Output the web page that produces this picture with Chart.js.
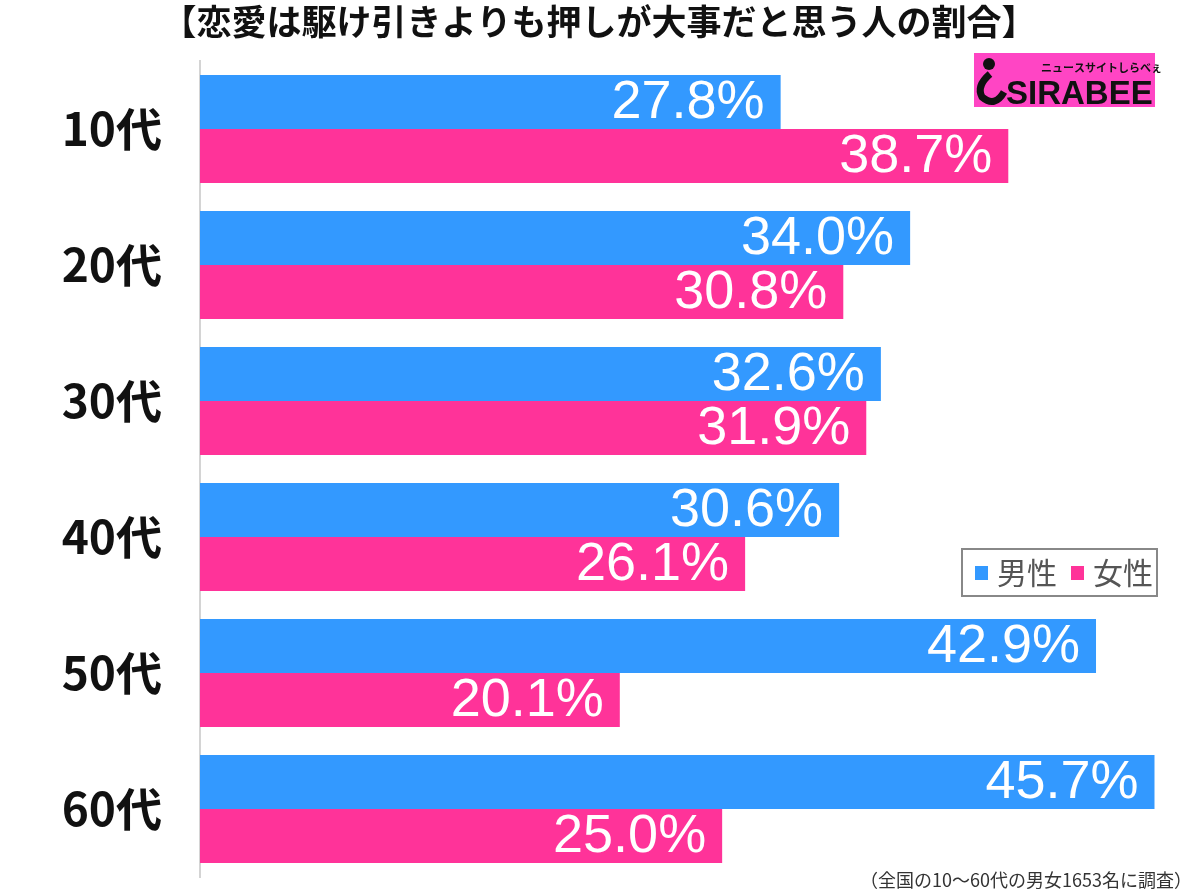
<!DOCTYPE html>
<html lang="ja">
<head>
<meta charset="utf-8">
<title>恋愛は駆け引きよりも押しが大事だと思う人の割合</title>
<style>
  body { margin: 0; background: #fff; }
  #wrap { position: relative; width: 1200px; height: 891px; }
</style>
</head>
<body>
<div id="wrap"><canvas id="myChart"></canvas></div>
<script src="https://cdn.jsdelivr.net/npm/chart.js"></script>
<script>
// data
var ages = ['10代', '20代', '30代', '40代', '50代', '60代'];
var male = [27.8, 34.0, 32.6, 30.6, 42.9, 45.7];
var female = [38.7, 30.8, 31.9, 26.1, 20.1, 25.0];
var seriesNames = ['男性', '女性'];
var titleText = '【恋愛は駆け引きよりも押しが大事だと思う人の割合】';
var noteText = '（全国の10〜60代の男女1653名に調査）';

var BLUE = '#3399ff';
var PINK = '#ff3399';
var CJK = '"Noto Sans CJK JP", "Noto Sans", sans-serif';
var NUM = '"Liberation Sans", Arial, sans-serif';

// title, logo, legend box, footnote
var decorations = {
  id: 'decorations',
  afterDraw: function (chart) {
    var ctx = chart.ctx;
    ctx.save();

    ctx.fillStyle = '#111';
    ctx.font = 'bold 35px ' + CJK;
    ctx.textAlign = 'center';
    ctx.textBaseline = 'middle';
    ctx.fillText(titleText, 599, 22);

    // logo
    ctx.fillStyle = '#ff45c4';
    ctx.fillRect(974, 53, 181, 54);
    ctx.fillStyle = '#111';
    ctx.beginPath();
    ctx.arc(989, 64, 6, 0, Math.PI * 2);
    ctx.fill();
    ctx.lineWidth = 7;
    ctx.strokeStyle = '#111';
    ctx.beginPath();
    ctx.moveTo(990, 74);
    ctx.quadraticCurveTo(976, 86, 982, 97);
    ctx.quadraticCurveTo(995, 108, 1004, 92);
    ctx.stroke();
    ctx.font = 'bold 33px ' + NUM;
    ctx.textAlign = 'left';
    ctx.textBaseline = 'alphabetic';
    ctx.fillText('SIRABEE', 1006, 104);
    ctx.font = 'bold 11px ' + CJK;
    ctx.fillText('ニュースサイトしらべぇ', 1041, 72);

    // legend
    ctx.strokeStyle = '#888';
    ctx.lineWidth = 2;
    ctx.strokeRect(962, 549, 195, 47);
    ctx.fillStyle = BLUE;
    ctx.fillRect(975, 566, 13, 14);
    ctx.fillStyle = PINK;
    ctx.fillRect(1071, 566, 13, 14);
    ctx.fillStyle = '#555';
    ctx.font = '30px ' + CJK;
    ctx.textBaseline = 'middle';
    ctx.fillText(seriesNames[0], 997, 573);
    ctx.fillText(seriesNames[1], 1093, 573);

    // footnote
    ctx.fillStyle = '#333';
    ctx.font = '18px ' + CJK;
    ctx.textAlign = 'right';
    ctx.fillText(noteText, 1192, 880);
    ctx.restore();
  }
};

// white value labels inside bar ends
var valueLabels = {
  id: 'valueLabels',
  afterDatasetsDraw: function (chart) {
    var ctx = chart.ctx;
    ctx.save();
    ctx.fillStyle = '#fff';
    ctx.font = '54px ' + NUM;
    ctx.textAlign = 'right';
    ctx.textBaseline = 'middle';
    chart.data.datasets.forEach(function (ds, i) {
      chart.getDatasetMeta(i).data.forEach(function (bar, j) {
        ctx.fillText(ds.data[j].toFixed(1) + '%', bar.x - 16, bar.y + 1);
      });
    });
    ctx.restore();
  }
};

new Chart('myChart', {
  type: 'bar',
  data: {
    labels: ages,
    datasets: [
      { label: seriesNames[0], data: male, backgroundColor: BLUE },
      { label: seriesNames[1], data: female, backgroundColor: PINK }
    ]
  },
  options: {
    indexAxis: 'y',
    responsive: true,
    maintainAspectRatio: false,
    animation: false,
    layout: { padding: { top: 61, bottom: 14, left: 0, right: 10 } },
    datasets: { bar: { categoryPercentage: 0.794, barPercentage: 1 } },
    plugins: {
      legend: { display: false },
      title: { display: false },
      tooltip: { enabled: false }
    },
    scales: {
      x: { display: false, min: 0, max: 47.4 },
      y: {
        afterFit: function (scale) {
          scale.width = 200;
          scale.paddingTop = 0;
          scale.paddingBottom = 0;
        },
        grid: { display: false, drawTicks: false },
        border: { display: true, color: '#d4d4d4', width: 2 },
        ticks: {
          padding: 38,
          color: '#111',
          font: { family: CJK, size: 46, weight: 'bold' }
        }
      }
    }
  },
  plugins: [valueLabels, decorations]
});
</script>
</body>
</html>
